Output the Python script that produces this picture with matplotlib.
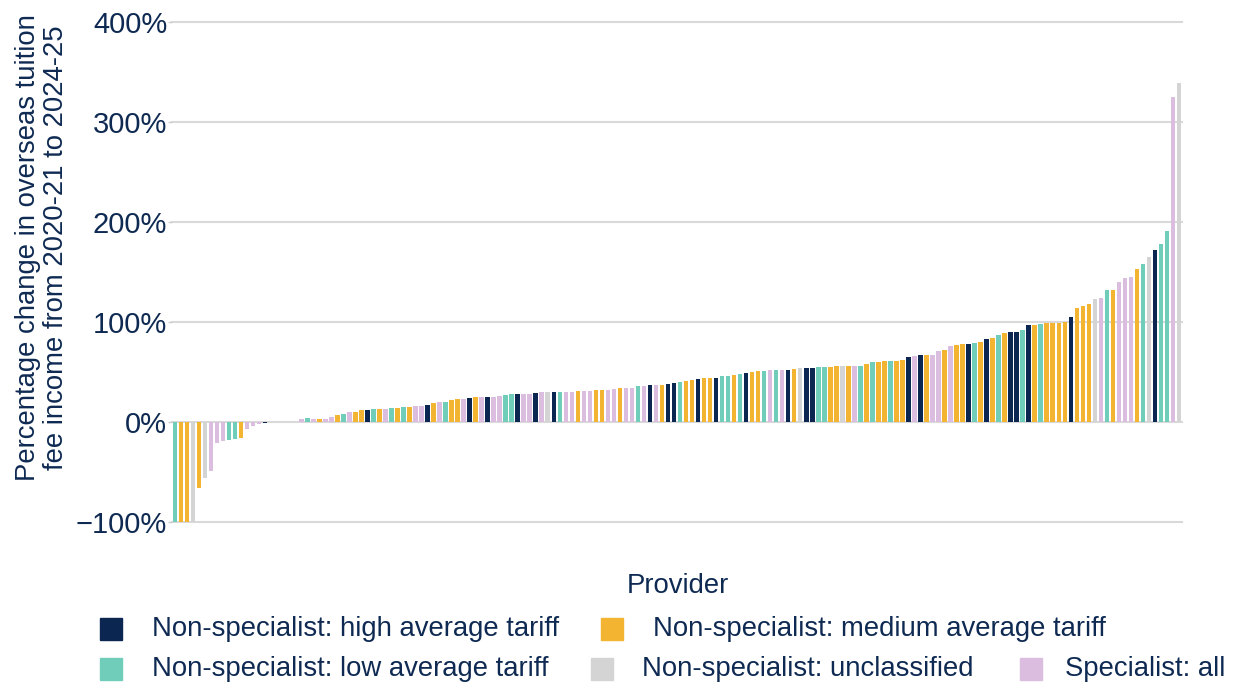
import matplotlib
matplotlib.use("Agg")
import matplotlib.pyplot as plt
from matplotlib.patches import Rectangle

plt.rcParams['font.family'] = ['Liberation Sans', 'DejaVu Sans']

# provider groups, one code per bar (sorted by value)
# H = high tariff, M = medium tariff, L = low tariff, U = unclassified, S = specialist
groups = (
    "L M M U M U S S S L L M S S S H "
    "S U M L S "
    "S L S M S S M L S M M H L M S L M L M S S H "
    "M S L M M S H M S H S S L L H S S H S U H L "
    "S S M S S M M S S M S S L S H S M H H L M M H "
    "M M H L L M L H M M L S L S H M U H H L L M "
    "M U M S L M L M M L M M H S H M S S M S M "
    "M H L M H M L M H H L H M L M M M M H "
    "M M M U S L M S S S M L U H L L S U"
).split()

values = [
    -100, -100, -100, -100, -66, -56, -49, -21, -19, -18, -17, -16, -7, -4, -2, -1,
    0, 0, 0, 0, 0,
    3, 4, 3, 3, 3, 5, 7, 8, 10, 10, 12, 12, 13, 13, 13, 14, 14, 15, 15, 16, 16, 17,
    19, 20, 20, 22, 23, 23, 24, 25, 25, 25, 25, 26, 27, 28, 28, 28, 28, 29, 30, 30, 30, 30,
    30, 30, 31, 31, 31, 32, 32, 32, 33, 34, 34, 34, 36, 36, 37, 37, 37, 38, 39, 40, 41, 42, 43,
    44, 44, 44, 46, 46, 47, 48, 49, 50, 51, 51, 52, 52, 52, 52, 53, 54, 54, 54, 55, 55, 55,
    56, 56, 56, 56, 56, 58, 60, 60, 61, 61, 61, 62, 65, 66, 67, 67, 67, 71, 72, 76, 77,
    78, 78, 79, 80, 83, 84, 87, 89, 90, 90, 92, 97, 97, 98, 99, 99, 99, 100, 105,
    114, 116, 118, 123, 124, 132, 132, 140, 144, 145, 153, 158, 165, 172, 178, 191, 325, 339,
]

legend_labels = {
    "H": "Non-specialist: high average tariff",
    "M": "Non-specialist: medium average tariff",
    "L": "Non-specialist: low average tariff",
    "U": "Non-specialist: unclassified",
    "S": "Specialist: all",
}
colours = {"H": "#0b2650", "M": "#f3b432", "L": "#70cdb9", "U": "#d4d4d4", "S": "#dbbde0"}
text_col = "#0f2a52"

W, H = 1235, 686
fig = plt.figure(figsize=(W / 100, H / 100), dpi=100)
ax = fig.add_axes([172 / W, (H - 522) / H, 1010 / W, 500 / H])

x = range(len(values))
ax.bar(x, values, width=0.75, color=[colours[g] for g in groups], zorder=3)

ax.set_xlim(-0.5, len(values) - 0.5)
ax.set_ylim(-100, 400)
ticks = [-100, 0, 100, 200, 300, 400]
ax.set_yticks(ticks)
ax.set_yticklabels([f"{t}%".replace("-", "\u2212") for t in ticks], fontsize=21, color=text_col)
ax.set_xticks([])
ax.tick_params(axis="y", length=3, width=1, color="#cccccc", pad=0.5)
ax.grid(axis="y", color="#d9d9d9", linewidth=1.5, zorder=0)
for gl in ax.get_ygridlines():
    gl.set_clip_on(False)
for s in ax.spines.values():
    s.set_visible(False)

fig.text(42 / W, 1 - 248 / H,
         "Percentage change in overseas tuition\nfee income from 2020-21 to 2024-25",
         rotation=90, ha="center", va="center", fontsize=19.8, color=text_col,
         linespacing=1.1, multialignment="center")
fig.text(678 / W, 1 - 586 / H, "Provider", ha="center", va="center", fontsize=19.8, color=text_col)

# legend drawn by hand: two rows, squares + labels
legend_pos = [("H", 100, 152, 629), ("M", 601, 653, 629),
              ("L", 100, 152, 669), ("U", 591, 642, 669), ("S", 1020, 1065, 669)]
for key, sx, tx, cy in legend_pos:
    fig.add_artist(Rectangle((sx / W, 1 - (cy + 11) / H), 22 / W, 22 / H,
                             transform=fig.transFigure, color=colours[key]))
    fig.text(tx / W, 1 - cy / H, legend_labels[key], ha="left", va="center",
             fontsize=19.8, color=text_col)

fig.savefig("out.png", dpi=100)
